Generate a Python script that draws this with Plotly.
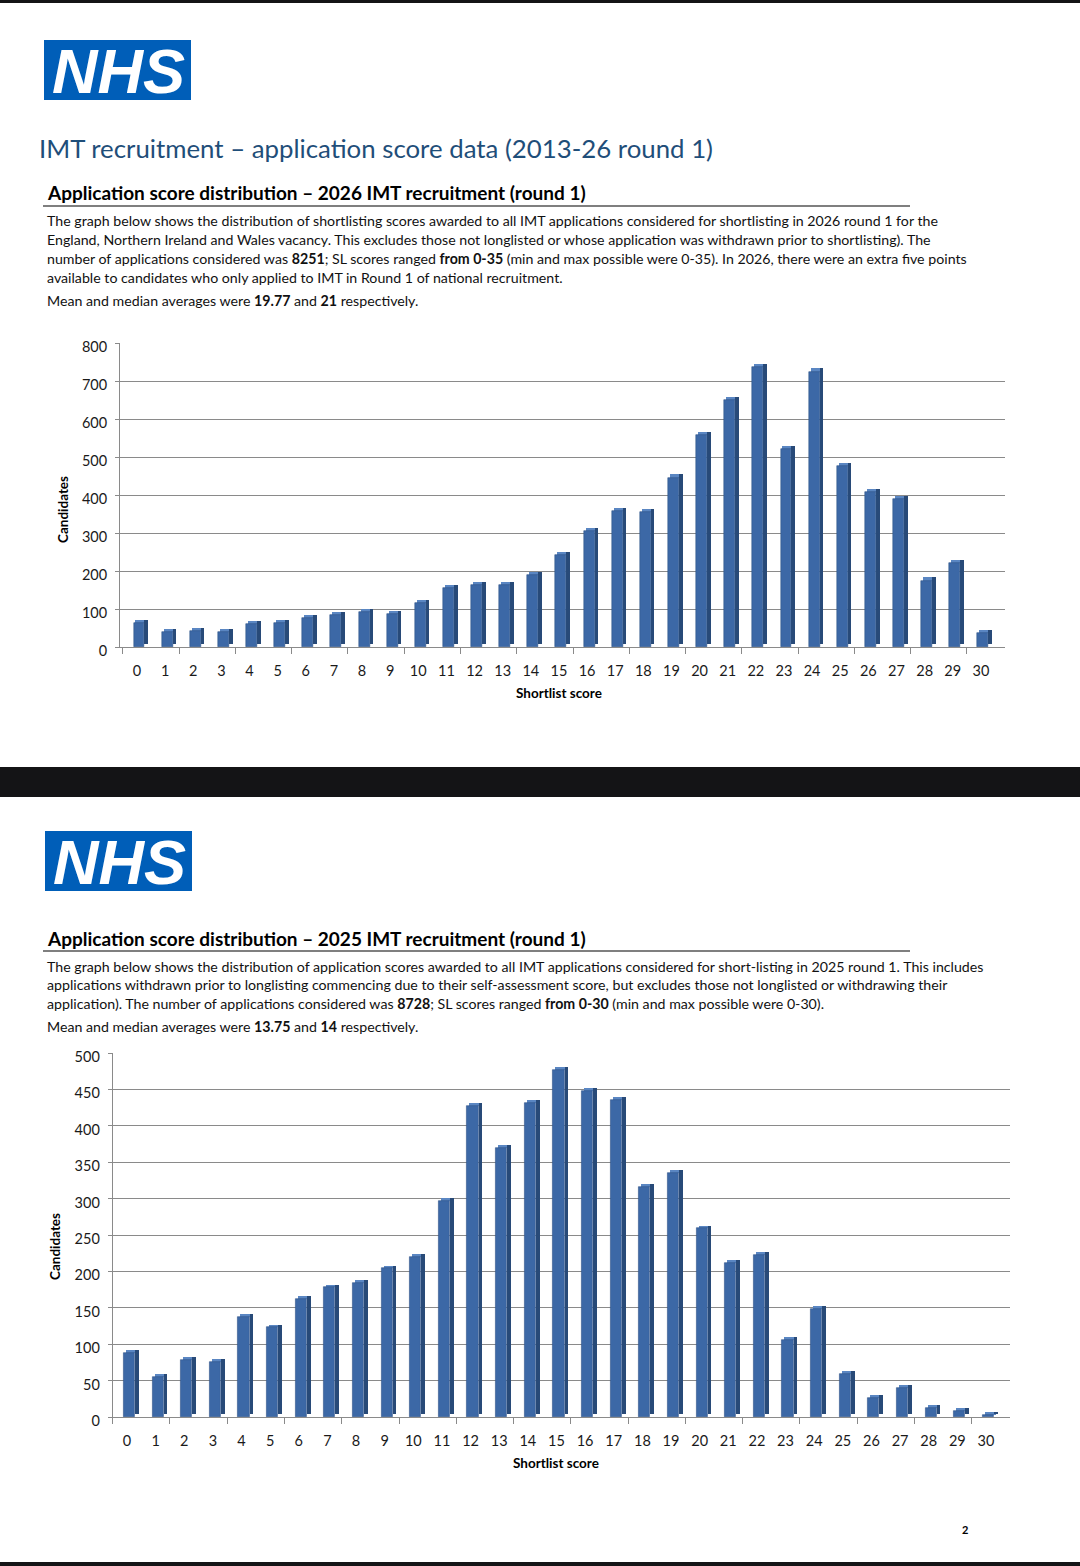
import plotly.graph_objects as go

W, H = 1080, 1566

# ---------------- data ----------------
scores = list(range(31))
score_labels = [str(s) for s in scores]

candidates_2026 = [62, 40, 43, 40, 60, 62, 76, 85, 92, 88, 117, 156, 162, 163, 190,
                   242, 305, 358, 354, 446, 558, 650, 736, 522, 725, 476, 408, 390, 175, 220, 36]
candidates_2025 = [88, 55, 78, 76, 137, 123, 162, 178, 184, 204, 220, 297, 427, 369, 432,
                   477, 448, 436, 316, 335, 259, 211, 222, 106, 149, 59, 26, 40, 13, 8, 3]

y_ticks_2026 = list(range(0, 801, 100))
y_ticks_2025 = list(range(0, 501, 50))

FONT = "Lato"
FRONT = "#3c68a6"
SIDE = "#284a78"
CAP = "#5a86c2"
GRID = "#8a8a8a"


def px(x, y):
    return x / W, 1 - y / H


fig = go.Figure()


def add_bars(values, depth, xa, ya):
    caps = [depth] * len(values)
    fig.add_trace(go.Bar(x=scores, y=caps, base=values, width=0.39, offset=-0.05,
                         marker=dict(color=CAP, line=dict(width=0)), xaxis=xa, yaxis=ya,
                         showlegend=False, hoverinfo="skip"))
    fig.add_trace(go.Bar(x=scores, y=values, base=depth, width=0.13, offset=0.27,
                         marker=dict(color=SIDE, line=dict(width=0)), xaxis=xa, yaxis=ya,
                         showlegend=False, hoverinfo="skip"))
    fig.add_trace(go.Bar(x=scores, y=values, width=0.39, offset=-0.12,
                         marker=dict(color=FRONT, line=dict(width=0.6, color="#2f5488")),
                         xaxis=xa, yaxis=ya, showlegend=False,
                         hovertemplate="Score %{x}: %{y}<extra></extra>"))


add_bars(candidates_2026, 8, "x", "y")
add_bars(candidates_2025, 4, "x2", "y2")

xcommon = dict(tickmode="array", tickvals=scores, ticktext=score_labels, ticks="",
               automargin=False,
               showgrid=False, zeroline=False, showline=True, linecolor=GRID, linewidth=1,
               tickfont=dict(family=FONT, size=14.5, color="#1a1a1a"), ticklabelstandoff=11,
               minor=dict(ticks="outside", tick0=-0.5, dtick=2, ticklen=6, tickcolor=GRID,
                          tickwidth=1, showgrid=False))
ycommon = dict(showgrid=True, gridcolor=GRID, gridwidth=1.1, zeroline=False, showline=True,
               automargin=False,
               linecolor=GRID, linewidth=1, ticks="outside", ticklen=4, tickcolor=GRID,
               tickfont=dict(family=FONT, size=14.5, color="#1a1a1a"), ticklabelstandoff=5,
               ticklabelshift=4)

fig.update_layout(
    template="none",
    width=W, height=H, margin=dict(l=0, r=0, t=0, b=0, pad=0, autoexpand=False),
    paper_bgcolor="white", plot_bgcolor="white", barmode="overlay", bargap=0,
    showlegend=False,
    xaxis=dict(domain=[120.1 / W, 1004.8 / W], range=[-0.6, 30.85], anchor="y", **xcommon),
    yaxis=dict(domain=[1 - 647 / H, 1 - 343 / H], range=[0, 800], tickvals=y_ticks_2026,
               anchor="x", **ycommon),
    xaxis2=dict(domain=[112.7 / W, 1010 / W], range=[-0.5, 30.84], anchor="y2", **xcommon),
    yaxis2=dict(domain=[1 - 1417 / H, 1 - 1053 / H], range=[0, 500], tickvals=y_ticks_2025,
                anchor="x2", **ycommon),
)

shapes = []
# black page separators
for y0, y1 in [(0, 3), (767, 797), (1562, 1566)]:
    shapes.append(dict(type="rect", xref="paper", yref="paper", x0=0, x1=1,
                       y0=1 - y1 / H, y1=1 - y0 / H, fillcolor="#141416", line=dict(width=0),
                       layer="above"))
# NHS logos
for (lx0, ly0, lx1, ly1) in [(44, 40, 191, 100), (45, 831, 192, 891)]:
    shapes.append(dict(type="rect", xref="paper", yref="paper", x0=lx0 / W, x1=lx1 / W,
                       y0=1 - ly1 / H, y1=1 - ly0 / H, fillcolor="#005EB8", line=dict(width=0)))
# heading underlines
for yy in [206, 951]:
    shapes.append(dict(type="line", xref="paper", yref="paper", x0=43 / W, x1=910 / W,
                       y0=1 - yy / H, y1=1 - yy / H, line=dict(color="black", width=1.2)))
fig.update_layout(shapes=shapes)

ann = []


def text(x, y, s, size, color="#111111", bold=False, anchor="left", angle=0, family=FONT):
    xx, yy = px(x, y)
    ann.append(dict(x=xx, y=yy, xref="paper", yref="paper", text=("<b>%s</b>" % s) if bold else s,
                    showarrow=False, xanchor=anchor, yanchor="middle", textangle=angle,
                    font=dict(family=family, size=size, color=color)))


# logos text
text(118, 71, "<b><i>NHS</i></b>", 63, color="white", anchor="center", family="Liberation Sans")
text(119, 862, "<b><i>NHS</i></b>", 63, color="white", anchor="center", family="Liberation Sans")

# page 1 text
text(37, 148, "IMT recruitment – application score data (2013-26 round 1)", 25.8, color="#1f4e79")
text(45, 192, "Application score distribution – 2026 IMT recruitment (round 1)", 19, bold=True,
     color="black")
p1 = [
    "The graph below shows the distribution of shortlisting scores awarded to all IMT applications considered for shortlisting in 2026 round 1 for the",
    "England, Northern Ireland and Wales vacancy. This excludes those not longlisted or whose application was withdrawn prior to shortlisting). The",
    "number of applications considered was <b>8251</b>; SL scores ranged <b>from 0-35</b> (min and max possible were 0-35). In 2026, there were an extra five points",
    "available to candidates who only applied to IMT in Round 1 of national recruitment.",
]
for i, line in enumerate(p1):
    text(45, 220 + 19 * i, line, 14.2)
text(45, 300, "Mean and median averages were <b>19.77</b> and <b>21</b> respectively.", 14.2)

# page 2 text
text(45, 938, "Application score distribution – 2025 IMT recruitment (round 1)", 19, bold=True,
     color="black")
p2 = [
    "The graph below shows the distribution of application scores awarded to all IMT applications considered for short-listing in 2025 round 1. This includes",
    "applications withdrawn prior to longlisting commencing due to their self-assessment score, but excludes those not longlisted or withdrawing their",
    "application). The number of applications considered was <b>8728</b>; SL scores ranged <b>from 0-30</b> (min and max possible were 0-30).",
]
for i, line in enumerate(p2):
    text(45, 966 + 18.5 * i, line, 14.2)
text(45, 1026, "Mean and median averages were <b>13.75</b> and <b>14</b> respectively.", 14.2)

# axis titles
text(63, 510, "Candidates", 13.5, bold=True, anchor="center", angle=-90, color="black")
text(559, 693, "Shortlist score", 13.5, bold=True, anchor="center", color="black")
text(55, 1247, "Candidates", 13.5, bold=True, anchor="center", angle=-90, color="black")
text(556, 1463, "Shortlist score", 13.5, bold=True, anchor="center", color="black")

# page number
text(965, 1529, "2", 11, bold=True, anchor="center", color="black")

fig.update_layout(annotations=ann)

fig.write_html(
    "out.html",
    config={"displayModeBar": False},
    post_script=(
        "document.documentElement.style.margin='0';"
        "document.body.style.margin='0';document.body.style.padding='0';"
        "document.body.style.overflow='hidden';"
        "var g=document.querySelector('.plotly-graph-div');"
        "g.style.position='absolute';g.style.top='0px';g.style.left='0px';"
        "document.querySelectorAll('.svg-container').forEach(function(e){e.style.display='block';});"
    ),
)
